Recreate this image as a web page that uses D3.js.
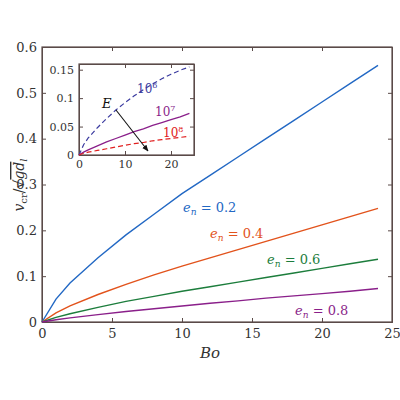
<!DOCTYPE html><html><head><meta charset="utf-8"><script src="https://d3js.org/d3.v7.min.js"></script>
<style>body{margin:0;background:#fff}text{font-family:"DejaVu Serif","Liberation Serif",serif}</style></head><body><svg id="c" width="400" height="400"></svg>
<script>
const bo=[0,1,2,4,6,8,10,12,14,16,18,20,22,24];
const e02=[0,0.05,0.085,0.14,0.19,0.235,0.28,0.32,0.36,0.40,0.44,0.48,0.52,0.56];
const e04=[0,0.02,0.035,0.06,0.082,0.103,0.122,0.14,0.158,0.176,0.194,0.212,0.23,0.248];
const e06=[0,0.01,0.018,0.032,0.045,0.056,0.067,0.077,0.087,0.097,0.107,0.117,0.127,0.137];
const e08=[0,0.005,0.009,0.016,0.023,0.029,0.035,0.041,0.046,0.052,0.057,0.062,0.067,0.073];
const E6=[0,0.018,0.03,0.048,0.064,0.079,0.092,0.104,0.115,0.125,0.134,0.142,0.149,0.155];
const E7=e08;
const E8=[0,0.003,0.005,0.008,0.011,0.014,0.017,0.02,0.022,0.025,0.027,0.029,0.031,0.033];
const xTicks=[0,5,10,15,20,25], yTicks=[0,0.1,0.2,0.3,0.4,0.5,0.6];
const ixTicks=[0,10,20], iyTicks=[0,0.05,0.1,0.15];
const svg=d3.select("#c"), ax="#5a4a48";
function frame(g,x,y,xt,yt,fs,fmt){
  const [x0,x1]=x.range(),[y0,y1]=y.range();
  g.append("rect").attr("x",x0).attr("y",y1).attr("width",x1-x0).attr("height",y0-y1).attr("fill","#fff").attr("stroke",ax).attr("stroke-width",1.2);
  const bx=g.append("g").attr("transform",`translate(0,${y0})`).call(d3.axisBottom(x).tickValues(xt).tickSize(-4).tickPadding(7).tickFormat(d=>d));
  const by=g.append("g").attr("transform",`translate(${x0},0)`).call(d3.axisLeft(y).tickValues(yt).tickSize(-4).tickPadding(5).tickFormat(fmt));
  g.append("g").attr("transform",`translate(0,${y1})`).call(d3.axisTop(x).tickValues(xt).tickSize(-4).tickFormat(""));
  g.append("g").attr("transform",`translate(${x1},0)`).call(d3.axisRight(y).tickValues(yt).tickSize(-4).tickFormat(""));
  g.selectAll(".domain").attr("stroke",ax);g.selectAll(".tick line").attr("stroke",ax);
  g.selectAll(".tick text").attr("fill","#333").style("font-family","DejaVu Serif,serif").style("font-size",fs+"px");
}
const x=d3.scaleLinear([0,25],[42,392]), y=d3.scaleLinear([0,0.6],[322,47]);
frame(svg.append("g"),x,y,xTicks,yTicks,13,d=>d===0?"0":d.toFixed(1));
const line=d3.line().x((d,i)=>x(bo[i])).y(d=>y(d));
[[e02,"#2268c4"],[e04,"#e2531c"],[e06,"#1c7d3c"],[e08,"#8a1f8a"]].forEach(([s,c])=>svg.append("path").attr("d",line(s)).attr("fill","none").attr("stroke",c).attr("stroke-width",1.4));
function lab(g,tx,ty,v,c,fs){const t=g.append("text").attr("x",tx).attr("y",ty).attr("fill",c).style("font-size",fs+"px");
 t.append("tspan").style("font-style","italic").text("e");t.append("tspan").attr("dy",3).style("font-size",(fs*0.7)+"px").style("font-style","italic").text("n");t.append("tspan").attr("dy",-3).text(" = "+v);}
lab(svg,183,212,"0.2","#2268c4",13);lab(svg,210,238,"0.4","#e2531c",13);lab(svg,267,264,"0.6","#1c7d3c",13);lab(svg,295,315,"0.8","#8a1f8a",13);
// axis labels
svg.append("text").attr("x",210).attr("y",358).attr("text-anchor","middle").style("font-size","15px").style("font-style","italic").attr("fill","#333").text("Bo");
const yl=svg.append("text").attr("transform","translate(24,185) rotate(-90)").attr("text-anchor","middle").style("font-size","14px").attr("fill","#333");
yl.append("tspan").style("font-style","italic").text("v");yl.append("tspan").attr("dy",3).style("font-size","10px").text("cr");
yl.append("tspan").attr("dy",-3).text("/√");yl.append("tspan").style("font-style","italic").style("text-decoration","overline").text("gd");
yl.append("tspan").attr("dy",3).style("font-size","10px").style("font-style","italic").text("l");
// inset
const g=svg.append("g");
const ix=d3.scaleLinear([0,25],[79,194]), iy=d3.scaleLinear([0,0.16],[155,64]);
frame(g,ix,iy,ixTicks,iyTicks,11,d=>d===0?"0":String(d));
g.selectAll(".tick text").filter(function(){return this.parentNode.parentNode.getAttribute("transform")==="translate(0,155)"}).attr("dy","0.5em");
const il=d3.line().x((d,i)=>ix(bo[i])).y(d=>iy(d));
g.append("path").attr("d",il(E6)).attr("fill","none").attr("stroke","#3c3ca0").attr("stroke-width",1.2).attr("stroke-dasharray","5,3");
g.append("path").attr("d",il(E7)).attr("fill","none").attr("stroke","#8a1f8a").attr("stroke-width",1.3);
g.append("path").attr("d",il(E8)).attr("fill","none").attr("stroke","#e02020").attr("stroke-width",1.2).attr("stroke-dasharray","5,3");
function pw(tx,ty,e,c){const t=g.append("text").attr("x",tx).attr("y",ty).attr("fill",c).style("font-size","12px");t.append("tspan").text("10");t.append("tspan").attr("dy",-5).style("font-size","8px").text(e);}
pw(137,93,"6","#3c3ca0");pw(155,116,"7","#8a1f8a");pw(163,137,"8","#e02020");
g.append("text").attr("x",102).attr("y",108).style("font-size","13px").style("font-style","italic").attr("fill","#111").text("E");
svg.append("defs").append("marker").attr("id","ar").attr("viewBox","0 0 10 10").attr("refX",9).attr("refY",5).attr("markerWidth",6).attr("markerHeight",6).attr("orient","auto").append("path").attr("d","M0,1L10,5L0,9z").attr("fill","#111");
g.append("line").attr("x1",116).attr("y1",110).attr("x2",148).attr("y2",151).attr("stroke","#111").attr("stroke-width",1.1).attr("marker-end","url(#ar)");
</script></body></html>
